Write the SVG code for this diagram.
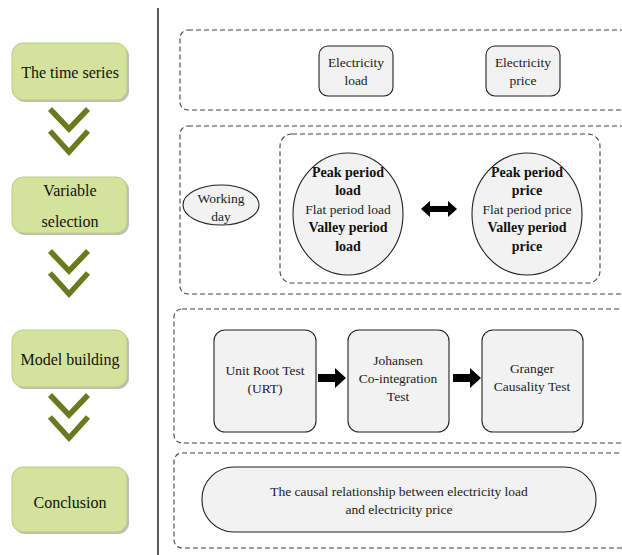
<svg xmlns="http://www.w3.org/2000/svg" width="622" height="555" viewBox="0 0 622 555">
<defs>
<style>
.stage{fill:#d4e29c;stroke:#bccd80;stroke-width:1}
.shadow{fill:#bdbdbd}
.stxt{font-size:16px;fill:#111;text-anchor:middle}
.chev{fill:none;stroke:#6a7a1e;stroke-width:5.5}
.dash{fill:none;stroke:#444;stroke-width:1.1;stroke-dasharray:5,3}
.node{fill:#f2f2f2;stroke:#222;stroke-width:1.1}
.t{font-size:13.5px;fill:#222;text-anchor:middle}
.b{font-weight:bold;fill:#111;font-size:14px}
.conn{fill:#000;stroke:none}
</style>
<pattern id="stripe" width="6" height="6" patternUnits="userSpaceOnUse" patternTransform="rotate(45)">
<rect width="6" height="6" fill="#d4e29c"/>
<rect width="3" height="6" fill="#d9e6a6"/>
</pattern>
</defs>
<rect width="622" height="555" fill="#fff"/>
<line x1="158" y1="8" x2="158" y2="555" stroke="#000" stroke-width="1.3"/>

<g font-family="Liberation Serif, Times New Roman, serif">
<g id="stage-time-series">
<rect class="shadow" x="14" y="45" width="115" height="57" rx="11"/>
<rect class="stage" x="12" y="43" width="115" height="57" rx="11" fill="url(#stripe)"/>
<text class="stxt" x="70" y="78">The time series</text>
</g>
<g id="stage-variable-selection">
<rect class="shadow" x="14" y="179" width="115" height="56" rx="11"/>
<rect class="stage" x="12" y="177" width="115" height="56" rx="11" fill="url(#stripe)"/>
<text class="stxt" x="70" y="196">Variable</text>
<text class="stxt" x="70" y="227">selection</text>
</g>
<g id="stage-model-building">
<rect class="shadow" x="14" y="332" width="115" height="57" rx="11"/>
<rect class="stage" x="12" y="330" width="115" height="57" rx="11" fill="url(#stripe)"/>
<text class="stxt" x="70" y="365">Model building</text>
</g>
<g id="stage-conclusion">
<rect class="shadow" x="14" y="469" width="115" height="65" rx="11"/>
<rect class="stage" x="12" y="467" width="115" height="65" rx="11" fill="url(#stripe)"/>
<text class="stxt" x="70" y="508">Conclusion</text>
</g>

<g id="chevrons">
<polyline class="chev" points="50,109 69,129 88,109"/>
<polyline class="chev" points="50,131 69,152 88,131"/>
<polyline class="chev" points="50,251 69,271 88,251"/>
<polyline class="chev" points="50,273 69,294 88,273"/>
<polyline class="chev" points="50,395 69,415 88,395"/>
<polyline class="chev" points="50,417 69,438 88,417"/>
</g>

<g id="group-time-series">
<rect class="dash" x="180" y="30" width="460" height="80" rx="8"/>
</g>
<g id="group-variable-selection">
<rect class="dash" x="180" y="126" width="460" height="168" rx="8"/>
<rect class="dash" x="280" y="134" width="320" height="149" rx="12"/>
</g>
<g id="group-model-building">
<rect class="dash" x="174" y="309" width="460" height="134" rx="8"/>
</g>
<g id="group-conclusion">
<rect class="dash" x="174" y="453" width="460" height="95" rx="8"/>
</g>

<g id="node-electricity-load">
<rect class="node" x="319" y="46" width="74" height="50" rx="9"/>
<text class="t" x="356" y="67">Electricity</text>
<text class="t" x="356" y="85">load</text>
</g>
<g id="node-electricity-price">
<rect class="node" x="486" y="46" width="74" height="50" rx="9"/>
<text class="t" x="523" y="67">Electricity</text>
<text class="t" x="523" y="85">price</text>
</g>

<g id="node-working-day">
<ellipse class="node" cx="221" cy="205" rx="38" ry="20"/>
<text class="t" x="221" y="203">Working</text>
<text class="t" x="221" y="221">day</text>
</g>
<g id="node-load-periods">
<ellipse class="node" cx="348" cy="214" rx="55" ry="61"/>
<text class="t b" x="348" y="177">Peak period</text>
<text class="t b" x="348" y="195">load</text>
<text class="t" x="348" y="214">Flat period load</text>
<text class="t b" x="348" y="232">Valley period</text>
<text class="t b" x="348" y="251">load</text>
</g>
<g id="node-price-periods">
<ellipse class="node" cx="527" cy="214" rx="55" ry="61"/>
<text class="t b" x="527" y="177">Peak period</text>
<text class="t b" x="527" y="195">price</text>
<text class="t" x="527" y="214">Flat period price</text>
<text class="t b" x="527" y="232">Valley period</text>
<text class="t b" x="527" y="251">price</text>
</g>

<g id="node-urt">
<rect class="node" x="214" y="330" width="102" height="102" rx="11"/>
<text class="t" x="265" y="375">Unit Root Test</text>
<text class="t" x="265" y="393">(URT)</text>
</g>
<g id="node-johansen">
<rect class="node" x="348" y="330" width="101" height="102" rx="11"/>
<text class="t" x="398" y="365">Johansen</text>
<text class="t" x="398" y="383">Co-integration</text>
<text class="t" x="398" y="401">Test</text>
</g>
<g id="node-granger">
<rect class="node" x="482" y="330" width="101" height="102" rx="11"/>
<text class="t" x="532" y="373">Granger</text>
<text class="t" x="532" y="391">Causality Test</text>
</g>

<g id="node-conclusion">
<rect class="node" x="202" y="467" width="394" height="65" rx="32"/>
<text class="t" x="399" y="496">The causal relationship between electricity load</text>
<text class="t" x="399" y="514">and electricity price</text>
</g>

<g id="connectors">
<path class="conn" d="M421,209 L430,201 L430,206 L448,206 L448,201 L457,209 L448,217 L448,212 L430,212 L430,217 Z"/>
<path class="conn" d="M318,374 L335,374 L335,368 L346,378 L335,388 L335,382 L318,382 Z"/>
<path class="conn" d="M453,374 L470,374 L470,368 L481,378 L470,388 L470,382 L453,382 Z"/>
</g>
</g>
</svg>
